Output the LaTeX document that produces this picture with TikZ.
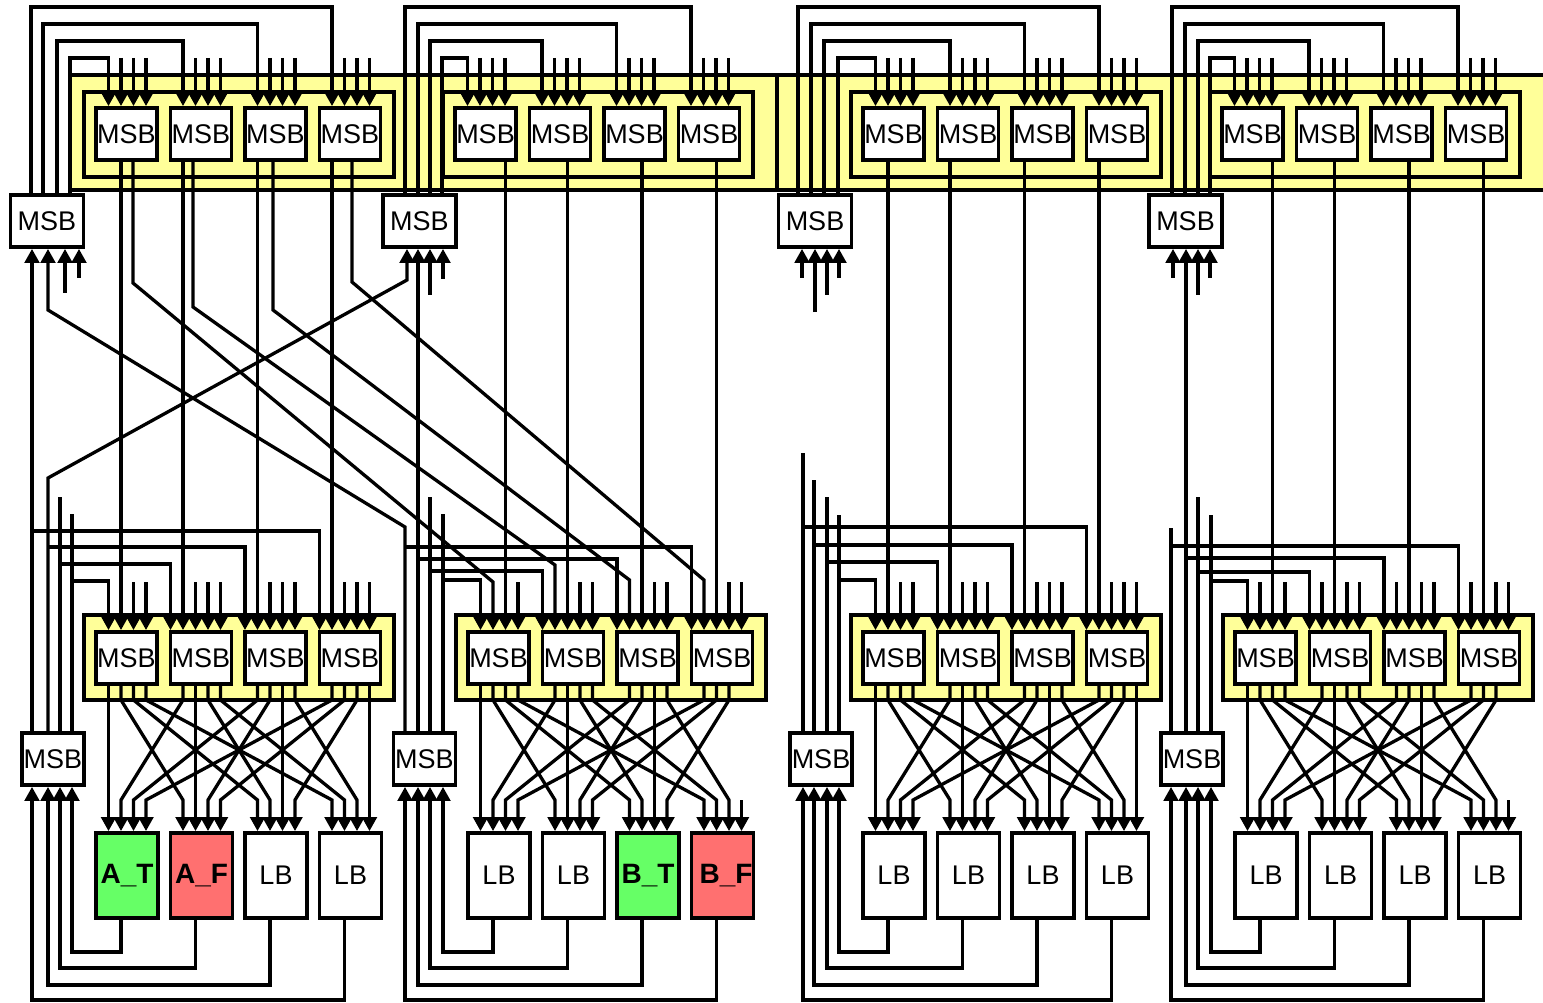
\documentclass[tikz,border=0pt]{standalone}
\usepackage{fontspec}
\setmainfont{Liberation Sans}
\usepackage{tikz}
\usetikzlibrary{arrows.meta,calc}
\definecolor{yBand}{RGB}{255,255,153}
\definecolor{gTrue}{RGB}{102,255,102}
\definecolor{rFalse}{RGB}{255,112,112}
\tikzset{
  msb/.style={rectangle, draw=black, line width=3.8pt, fill=white, inner sep=0pt, minimum width=61pt, minimum height=52pt, font=\fontsize{27}{29}\selectfont},
  sidemsb/.style={msb, minimum width=73pt},
  lowside/.style={msb, minimum width=62pt},
  lb/.style={msb, minimum width=62pt, minimum height=85pt},
  tlb/.style={lb, fill=gTrue, font=\fontsize{28}{30}\selectfont\bfseries},
  flb/.style={lb, fill=rFalse, font=\fontsize{28}{30}\selectfont\bfseries},
  band/.style={draw=black, line width=3.5pt, fill=yBand},
  wire/.style={line width=3.3pt, draw=black},
  arrow/.style={wire, -{Triangle[width=14.5pt,length=14pt]}}
}
\begin{document}
\begin{tikzpicture}[x=1pt,y=-1pt]
  \useasboundingbox (0,0) rectangle (1543,1003);
  % yellow clusters
  \draw[band] (70,75) rectangle (777,190);
  \draw[band] (777,75) rectangle (1560,190);
  \foreach \g/\L in {1/96,2/455,3/863,4/1222}
    \draw[band] ({\L-12},92) rectangle ({\L+298},177);
  \foreach \g/\L in {1/96,2/468,3/863,4/1235}
    \draw[band] ({\L-12},615) rectangle ({\L+298},700);
  % switch boxes
  \foreach \g/\L in {1/96,2/455,3/863,4/1222}
    \foreach \i in {1,...,4}
      \node[msb] (t\g\i) at ({\L+74.5*(\i-1)+30.5},134) {MSB};
  \foreach \g/\L in {1/96,2/468,3/863,4/1235}
    \foreach \i in {1,...,4}
      \node[msb] (b\g\i) at ({\L+74.5*(\i-1)+30.5},658) {MSB};
  \node[sidemsb] (ts1) at (47,221) {MSB};
  \node[sidemsb] (ts2) at (419.5,221) {MSB};
  \node[sidemsb] (ts3) at (815,221) {MSB};
  \node[sidemsb] (ts4) at (1185.5,221) {MSB};
  \node[lowside] (bs1) at (53,759) {MSB};
  \node[lowside] (bs2) at (424.5,759) {MSB};
  \node[lowside] (bs3) at (821,759) {MSB};
  \node[lowside] (bs4) at (1192,759) {MSB};
  % logic blocks
  \foreach \n/\x/\s/\t in {lb11/127/tlb/A\_T, lb12/201.5/flb/A\_F, lb13/276/lb/LB, lb14/350.5/lb/LB,
      lb21/499/lb/LB, lb22/573.5/lb/LB, lb23/648/tlb/B\_T, lb24/722.5/flb/\hspace*{7pt}B\_F,
      lb31/894/lb/LB, lb32/968.5/lb/LB, lb33/1043/lb/LB, lb34/1117.5/lb/LB,
      lb41/1266/lb/LB, lb42/1340.5/lb/LB, lb43/1415/lb/LB, lb44/1489.5/lb/LB}
    \node[\s] (\n) at (\x,875.5) {\t};

  % upper cluster inputs
  \foreach \g/\L in {1/96,2/455,3/863,4/1222}
    \foreach \i in {1,...,4}
      \foreach \k in {2,3,4}{
        \pgfmathsetmacro\x{\L+74.5*(\i-1)+12.5*\k}
        \draw[arrow] (\x,58) -- (\x,0 |- t\g\i.north);
      }
  \foreach \g/\L/\sa/\sb/\sc/\sd in {1/96/31/43/57/70, 2/455/405/418/430/442, 3/863/798/811/824/838, 4/1222/1172/1185/1198/1210}
    \foreach \xs/\y/\i in {\sa/7/4, \sb/24/3, \sc/41/2, \sd/58/1}{
      \pgfmathsetmacro\x{\L+74.5*(\i-1)+12.5}
      \draw[arrow] (\xs,0 |- ts\g.north) -- (\xs,\y) -- (\x,\y) -- (\x,0 |- t\g\i.north);
    }
  % upper side box inputs
  \foreach \g/\x/\y in {1/65/293, 1/79/278, 2/430/295, 2/443/279, 3/802/278, 3/815/312, 3/827/295, 3/839/278, 4/1173/278, 4/1198/295, 4/1210/278}
    \draw[arrow] (\x,\y) -- (\x,0 |- ts\g.south);
  \foreach \g/\x in {1/32, 2/418, 4/1186}
    \draw[arrow] (\x,0 |- bs\g.north) -- (\x,0 |- ts\g.south);
  \draw[arrow] (48,0 |- bs1.north) -- (48,478) -- (407,280) -- (407,0 |- ts2.south);
  \draw[arrow] (405,0 |- bs2.north) -- (405,527) -- (48,310) -- (48,0 |- ts1.south);

  % lower side box outputs
  \foreach \g/\x/\y in {1/60/497, 1/72/514, 2/430/497, 2/443/514, 3/803/453, 3/814/480, 3/827/497, 3/839/515, 4/1171/528, 4/1198/497, 4/1211/515}
    \draw[wire] (\x,\y) -- (\x,0 |- bs\g.north);
  \foreach \g/\L/\xs/\y/\i in {1/96/32/531/4, 1/96/48/547/3, 1/96/60/564/2, 1/96/72/581/1,
      2/468/405/547/4, 2/468/418/559/3, 2/468/430/571/2, 2/468/443/580/1,
      3/863/803/527/4, 3/863/814/545/3, 3/863/827/562/2, 3/863/839/580/1,
      4/1235/1171/546/4, 4/1235/1186/558/3, 4/1235/1198/572/2, 4/1235/1211/581/1}{
    \pgfmathsetmacro\x{\L+74.5*(\i-1)+12.5*(\i==1)}
    \draw[arrow] (\xs,\y) -- (\x,\y) -- (\x,0 |- b\g\i.north);
  }

  % upper to lower clusters
  \foreach \g/\L/\sa/\sb in {1/96/2/1, 2/468/3/2, 3/863/2/1, 4/1235/3/2}
    \foreach \i in {1,...,4}{
      \pgfmathsetmacro\x{\L+74.5*(\i-1)+12.5*(\i==1 ? \sa : \sb)}
      \draw[arrow] (\x,0 |- t\g\i.south) -- (\x,0 |- b\g\i.north);
    }
  \foreach \i/\xa/\ya/\ye in {1/133/283/582, 2/193/307/565, 3/273/310/580, 4/352/282/580}{
    \pgfmathsetmacro\x{468+74.5*(\i-1)+12.5*(1+(\i==1))}
    \draw[arrow] (\xa,0 |- t1\i.south) -- (\xa,\ya) -- (\x,\ye) -- (\x,0 |- b2\i.north);
  }
  % open lower cluster inputs
  \foreach \g/\L/\one/\rest in {1/96/{3,4}/{2,3,4}, 2/468/{4}/{3,4}, 3/863/{3,4}/{2,3,4}, 4/1235/{2,4}/{1,3,4}}{
    \foreach \s in \one{
      \pgfmathsetmacro\x{\L+12.5*\s}
      \draw[arrow] (\x,582) -- (\x,0 |- b\g1.north);
    }
    \foreach \i in {2,3,4}
      \foreach \s in \rest{
        \pgfmathsetmacro\x{\L+74.5*(\i-1)+12.5*\s}
        \draw[arrow] (\x,582) -- (\x,0 |- b\g\i.north);
      }
  }

  % crossbar to logic blocks
  \foreach \g/\L in {1/96,2/468,3/863,4/1235}
    \foreach \i in {1,...,4}
      \foreach \j in {1,...,4}{
        \pgfmathsetmacro\xout{\L+74.5*(\i-1)+12.5*\j}
        \pgfmathsetmacro\xin{\L+74.5*(\j-1)+12.5*\i}
        \pgfmathtruncatemacro\cut{\i*\j*(1-mod(\g,2))}
        \ifnum\cut=16
          \draw[arrow] (\xin,800) -- (\xin,0 |- lb\g\j.north);
        \else
          \draw[arrow] (\xout,0 |- b\g\i.south) -- (\xout,700) -- (\xin,800) -- (\xin,0 |- lb\g\j.north);
        \fi
      }
  % feedback to lower side boxes
  \foreach \g/\L/\sa/\sb/\sc/\sd in {1/96/32/48/60/72, 2/468/405/418/430/443, 3/863/803/814/827/839, 4/1235/1171/1186/1198/1211}
    \foreach \j/\xs/\y in {1/\sd/952, 2/\sc/968, 3/\sb/985, 4/\sa/1000}{
      \pgfmathsetmacro\x{\L+74.5*(\j-1)+25}
      \draw[arrow] (\x,0 |- lb\g\j.south) -- (\x,\y) -- (\xs,\y) -- (\xs,0 |- bs\g.south);
    }
\end{tikzpicture}
\end{document}
